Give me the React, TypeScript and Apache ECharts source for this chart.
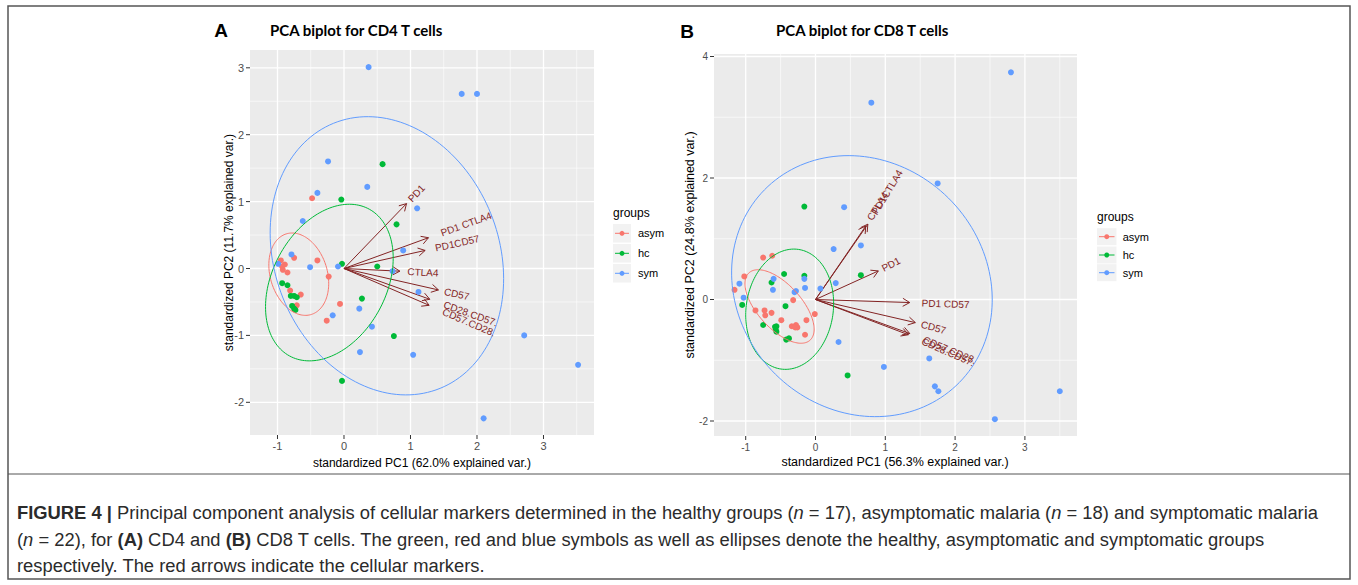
import React, { useEffect, useRef } from "react";
import * as echarts from "echarts";

// ---------- shared ----------
const GROUP_NAMES = ["asym", "hc", "sym"];
const GROUP_COLORS = ["#F8766D", "#00BA38", "#619CFF"];
const ARROW_COLOR = "#832424";

// ---------- Panel A (CD4) ----------
const A_X_MAJOR = [-1, 0, 1, 2, 3];
const A_X_MINOR = [-0.5, 0.5, 1.5, 2.5, 3.5];
const A_Y_MAJOR = [-2, -1, 0, 1, 2, 3];
const A_Y_MINOR = [-1.5, -0.5, 0.5, 1.5, 2.5];

const A_ASYM = [[-0.48, 1.05], [-0.75, 0.16], [-0.40, 0.12], [-0.23, -0.12], [-0.06, -0.53], [-0.95, 0.12], [-0.89, 0.06], [-0.93, 0.03], [-0.92, -0.02], [-0.85, -0.06], [-0.81, -0.33], [-0.65, -0.39], [-0.71, -0.55], [-0.26, -0.78]];
const A_HC = [[0.58, 1.56], [-0.04, 1.03], [0.79, 0.66], [-0.03, 0.07], [0.50, 0.03], [0.27, -0.45], [-0.93, -0.22], [-0.85, -0.25], [-0.80, -0.41], [-0.75, -0.41], [-0.71, -0.43], [-0.78, -0.56], [-0.75, -0.60], [-0.73, -0.62], [0.75, -1.01], [-0.03, -1.68]];
const A_SYM = [[0.37, 3.01], [1.77, 2.61], [2.00, 2.61], [-0.24, 1.60], [0.35, 1.22], [-0.40, 1.13], [1.10, 0.90], [-0.62, 0.71], [0.89, 0.27], [-0.79, 0.21], [-0.51, 0.02], [-0.09, 0.03], [0.73, -0.04], [1.12, -0.35], [0.23, -0.60], [-0.99, 0.07], [-0.17, -0.70], [0.42, -0.87], [2.71, -1.00], [0.24, -1.25], [1.04, -1.29], [3.52, -1.44], [2.10, -2.24]];
// ellipse: centre x, centre y, semi-major, semi-minor, major-axis angle (deg)
const A_ELLIPSES = [[-0.68, -0.085, 0.631, 0.428, 107.5], [-0.22, -0.21, 1.25, 0.854, 61.3], [0.645, 0.19, 2.137, 1.685, 112]];
const A_ARROW_NAMES = ["PD1", "PD1 CTLA4", "PD1CD57", "CTLA4", "CD57", "CD28.CD57.", "CD57.CD28."];
const A_ARROW_X = [0.94, 1.27, 1.22, 0.84, 1.42, 1.29, 1.28];
const A_ARROW_Y = [0.97, 0.46, 0.27, -0.04, -0.32, -0.46, -0.55];

// ---------- Panel B (CD8) ----------
const B_X_MAJOR = [-1, 0, 1, 2, 3];
const B_X_MINOR = [-0.5, 0.5, 1.5, 2.5, 3.5];
const B_Y_MAJOR = [-2, 0, 2, 4];
const B_Y_MINOR = [-1, 1, 3];

const B_ASYM = [[-0.75, 0.69], [-0.62, 0.72], [-1.02, 0.38], [-1.16, 0.16], [-0.32, -0.01], [-0.86, -0.18], [-0.73, -0.18], [-0.72, -0.26], [-0.63, -0.22], [-0.01, -0.24], [-0.49, -0.34], [-0.13, -0.34], [-0.34, -0.44], [-0.28, -0.42], [-0.26, -0.46], [-0.29, -0.46], [-0.15, -0.58]];
const B_HC = [[-0.16, 1.53], [-0.45, 0.42], [-0.16, 0.39], [0.65, 0.40], [-0.63, 0.28], [-1.05, -0.09], [-0.43, -0.11], [-0.75, -0.42], [-0.58, -0.45], [-0.56, -0.44], [-0.57, -0.49], [-0.56, -0.53], [-0.42, -0.66], [-0.38, -0.64], [0.46, -1.25]];
const B_SYM = [[2.80, 3.74], [0.80, 3.24], [1.75, 1.91], [0.41, 1.52], [0.26, 0.83], [0.65, 0.89], [-0.16, 0.34], [-1.09, 0.26], [-0.60, 0.34], [-0.61, 0.16], [-0.15, 0.19], [-0.28, 0.14], [-0.30, 0.12], [0.07, 0.18], [0.29, 0.27], [-1.03, 0.03], [0.33, -0.70], [1.63, -0.97], [0.98, -1.11], [1.71, -1.43], [1.76, -1.51], [3.50, -1.51], [2.57, -1.97]];
const B_ELLIPSES = [[-0.515, -0.115, 0.708, 0.332, 126], [-0.37, -0.16, 0.993, 0.625, 84.2], [0.665, 0.22, 2.18, 1.83, 108.2]];
const B_ARROW_NAMES = ["CTLA4", "PD1CTLA4", "PD1", "PD1 CD57", "CD57", "CD57.CD28.", "CD28.CD57."];
const B_ARROW_X = [0.72, 0.75, 0.90, 1.35, 1.43, 1.35, 1.33];
const B_ARROW_Y = [1.21, 1.24, 0.47, -0.05, -0.38, -0.56, -0.58];

const FONT = "'Liberation Sans', Arial, sans-serif";

type Panel = {
  grid: { left: number; top: number; width: number; height: number };
  xr: [number, number];
  yr: [number, number];
  xMajor: number[]; xMinor: number[]; yMajor: number[]; yMinor: number[];
  groups: number[][][];
  ellipses: number[][];
  arrowNames: string[]; arrowX: number[]; arrowY: number[];
  tickFont: number;
};

const PANEL_A: Panel = {
  grid: { left: 250, top: 50, width: 344, height: 385 },
  xr: [-1.4135, 3.7594], yr: [-2.4888, 3.2661],
  xMajor: A_X_MAJOR, xMinor: A_X_MINOR, yMajor: A_Y_MAJOR, yMinor: A_Y_MINOR,
  groups: [A_ASYM, A_HC, A_SYM], ellipses: A_ELLIPSES,
  arrowNames: A_ARROW_NAMES, arrowX: A_ARROW_X, arrowY: A_ARROW_Y, tickFont: 11,
};
const PANEL_B: Panel = {
  grid: { left: 714, top: 54, width: 363, height: 382 },
  xr: [-1.4542, 3.7464], yr: [-2.2469, 4.0412],
  xMajor: B_X_MAJOR, xMinor: B_X_MINOR, yMajor: B_Y_MAJOR, yMinor: B_Y_MINOR,
  groups: [B_ASYM, B_HC, B_SYM], ellipses: B_ELLIPSES,
  arrowNames: B_ARROW_NAMES, arrowX: B_ARROW_X, arrowY: B_ARROW_Y, tickFont: 10,
};

function panelSeries(p: Panel, gi: number): any[] {
  const out: any[] = [];
  // grid lines, ticks and tick labels
  out.push({
    type: "custom", xAxisIndex: gi, yAxisIndex: gi, z: 1, silent: true, clip: false,
    data: [[0, 0]],
    renderItem: (params: any, api: any) => {
      const cs = params.coordSys;
      const L = cs.x, T = cs.y, R = cs.x + cs.width, B = cs.y + cs.height;
      const ch: any[] = [];
      const vline = (v: number, w: number) => {
        const x = api.coord([v, 0])[0];
        ch.push({ type: "line", shape: { x1: x, y1: T, x2: x, y2: B }, style: { stroke: "#ffffff", lineWidth: w } });
      };
      const hline = (v: number, w: number) => {
        const y = api.coord([0, v])[1];
        ch.push({ type: "line", shape: { x1: L, y1: y, x2: R, y2: y }, style: { stroke: "#ffffff", lineWidth: w } });
      };
      p.xMinor.forEach((v) => vline(v, 0.6));
      p.yMinor.forEach((v) => hline(v, 0.6));
      p.xMajor.forEach((v) => vline(v, 1.3));
      p.yMajor.forEach((v) => hline(v, 1.3));
      p.xMajor.forEach((v) => {
        const x = api.coord([v, 0])[0];
        ch.push({ type: "line", shape: { x1: x, y1: B, x2: x, y2: B + 4 }, style: { stroke: "#333333", lineWidth: 1 } });
        ch.push({ type: "text", style: { text: String(v), x, y: B + 11, align: "center", verticalAlign: "middle", fill: "#4D4D4D", fontSize: p.tickFont, fontFamily: FONT } });
      });
      p.yMajor.forEach((v) => {
        const y = api.coord([0, v])[1];
        ch.push({ type: "line", shape: { x1: L - 4, y1: y, x2: L, y2: y }, style: { stroke: "#333333", lineWidth: 1 } });
        ch.push({ type: "text", style: { text: String(v), x: L - 6, y, align: "right", verticalAlign: "middle", fill: "#4D4D4D", fontSize: p.tickFont, fontFamily: FONT } });
      });
      return { type: "group", children: ch };
    },
  });
  // arrows
  out.push({
    type: "custom", xAxisIndex: gi, yAxisIndex: gi, z: 2, silent: true, clip: false,
    data: p.arrowX.map((x, i) => [x, p.arrowY[i]]),
    renderItem: (params: any, api: any) => {
      const i = params.dataIndex;
      const o = api.coord([0, 0]);
      const e = api.coord([p.arrowX[i], p.arrowY[i]]);
      const ang = Math.atan2(e[1] - o[1], e[0] - o[0]);
      const hl = 8, ha = Math.PI / 6;
      const h1 = [e[0] - hl * Math.cos(ang - ha), e[1] - hl * Math.sin(ang - ha)];
      const h2 = [e[0] - hl * Math.cos(ang + ha), e[1] - hl * Math.sin(ang + ha)];
      return {
        type: "group",
        children: [
          { type: "line", shape: { x1: o[0], y1: o[1], x2: e[0], y2: e[1] }, style: { stroke: ARROW_COLOR, lineWidth: 1 } },
          { type: "polyline", shape: { points: [h1, e, h2] }, style: { stroke: ARROW_COLOR, fill: "none", lineWidth: 1 } },
        ],
      };
    },
  });
  // points
  p.groups.forEach((g, k) => {
    out.push({
      type: "scatter", name: GROUP_NAMES[k], xAxisIndex: gi, yAxisIndex: gi, z: 3, silent: true,
      data: g, symbol: "circle", symbolSize: 6,
      itemStyle: { color: GROUP_COLORS[k], opacity: 1 },
    });
  });
  // ellipses
  out.push({
    type: "custom", xAxisIndex: gi, yAxisIndex: gi, z: 4, silent: true, clip: false,
    data: p.ellipses.map((e) => [e[0], e[1]]),
    renderItem: (params: any, api: any) => {
      const [cx, cy, a, b, thDeg] = p.ellipses[params.dataIndex];
      const th = (thDeg * Math.PI) / 180;
      const pts: number[][] = [];
      const n = 160;
      for (let k = 0; k <= n; k++) {
        const t = (2 * Math.PI * k) / n;
        const dx = a * Math.cos(t) * Math.cos(th) - b * Math.sin(t) * Math.sin(th);
        const dy = a * Math.cos(t) * Math.sin(th) + b * Math.sin(t) * Math.cos(th);
        pts.push(api.coord([cx + dx, cy + dy]));
      }
      return { type: "polyline", shape: { points: pts }, style: { stroke: GROUP_COLORS[params.dataIndex], fill: "none", lineWidth: 1 } };
    },
  });
  // arrow labels
  out.push({
    type: "custom", xAxisIndex: gi, yAxisIndex: gi, z: 5, silent: true, clip: false,
    data: p.arrowX.map((x, i) => [x, p.arrowY[i]]),
    renderItem: (params: any, api: any) => {
      const i = params.dataIndex;
      const e = api.coord([p.arrowX[i], p.arrowY[i]]);
      const rot = Math.atan2(p.arrowY[i], p.arrowX[i]);
      const name = p.arrowNames[i];
      return {
        type: "text", x: e[0], y: e[1], rotation: rot,
        style: { text: name, x: 1.5 * name.length, y: 0, align: "left", verticalAlign: "middle", fill: ARROW_COLOR, fontSize: 10, fontFamily: FONT },
      };
    },
  });
  return out;
}

function legendGraphics(x: number, titleY: number, keyYs: number[], kw: number, kh: number, labelX: number): any[] {
  const g: any[] = [];
  g.push({ type: "text", x, y: titleY, style: { text: "groups", fontSize: 12, fontFamily: FONT, fill: "#000", align: "left", verticalAlign: "middle" } });
  keyYs.forEach((cy, k) => {
    g.push({ type: "rect", shape: { x, y: cy - kh / 2, width: kw, height: kh }, style: { fill: "#F2F2F2", stroke: "none" } });
    g.push({ type: "line", shape: { x1: x + 2, y1: cy, x2: x + kw - 2, y2: cy }, style: { stroke: GROUP_COLORS[k], lineWidth: 1 } });
    g.push({ type: "circle", shape: { cx: x + kw / 2, cy, r: 2.5 }, style: { fill: GROUP_COLORS[k] } });
    g.push({ type: "text", x: labelX, y: cy, style: { text: GROUP_NAMES[k], fontSize: 11, fontFamily: FONT, fill: "#000", align: "left", verticalAlign: "middle" } });
  });
  return g;
}

function buildOption(): any {
  const panels = [PANEL_A, PANEL_B];
  const graphic: any[] = [
    { type: "rect", shape: { x: 8, y: 6, width: 1342, height: 573 }, style: { fill: "none", stroke: "#555555", lineWidth: 1.5 }, silent: true },
    { type: "line", shape: { x1: 8, y1: 474, x2: 1350, y2: 474 }, style: { stroke: "#555555", lineWidth: 1 }, silent: true },
    { type: "text", x: 221, y: 30, style: { text: "A", fontSize: 19, fontWeight: "bold", fontFamily: FONT, fill: "#000", align: "center", verticalAlign: "middle" } },
    { type: "text", x: 270, y: 30, style: { text: "PCA biplot for CD4 T cells", fontSize: 15, fontWeight: "bold", fontFamily: "Lato, 'Open Sans', sans-serif", fill: "#000", align: "left", verticalAlign: "middle" } },
    { type: "text", x: 687, y: 31, style: { text: "B", fontSize: 19, fontWeight: "bold", fontFamily: FONT, fill: "#000", align: "center", verticalAlign: "middle" } },
    { type: "text", x: 776, y: 30, style: { text: "PCA biplot for CD8 T cells", fontSize: 15, fontWeight: "bold", fontFamily: "Lato, 'Open Sans', sans-serif", fill: "#000", align: "left", verticalAlign: "middle" } },
    { type: "text", x: 422, y: 463, style: { text: "standardized PC1 (62.0% explained var.)", fontSize: 12, fontFamily: FONT, fill: "#000", align: "center", verticalAlign: "middle" } },
    { type: "text", x: 229, y: 242.5, rotation: Math.PI / 2, style: { text: "standardized PC2 (11.7% explained var.)", fontSize: 12, fontFamily: FONT, fill: "#000", align: "center", verticalAlign: "middle" } },
    { type: "text", x: 895, y: 462, style: { text: "standardized PC1 (56.3% explained var.)", fontSize: 12.5, fontFamily: FONT, fill: "#000", align: "center", verticalAlign: "middle" } },
    { type: "text", x: 690, y: 245, rotation: Math.PI / 2, style: { text: "standardized PC2 (24.8% explained var.)", fontSize: 12.5, fontFamily: FONT, fill: "#000", align: "center", verticalAlign: "middle" } },
    ...legendGraphics(613, 213, [233.3, 253.3, 273.3], 18, 18.5, 638),
    ...legendGraphics(1097, 217.3, [236.7, 255, 272.7], 19.5, 17, 1122.7),
  ];
  return {
    animation: false,
    backgroundColor: "#ffffff",
    grid: panels.map((p) => ({ ...p.grid, show: true, backgroundColor: "#EBEBEB", borderWidth: 0, containLabel: false })),
    xAxis: panels.map((p, i) => ({ type: "value", gridIndex: i, min: p.xr[0], max: p.xr[1], show: false })),
    yAxis: panels.map((p, i) => ({ type: "value", gridIndex: i, min: p.yr[0], max: p.yr[1], show: false })),
    series: [...panelSeries(PANEL_A, 0), ...panelSeries(PANEL_B, 1)],
    graphic,
  };
}

export default function App() {
  const ref = useRef<HTMLDivElement>(null);
  const capRef = useRef<HTMLDivElement>(null);
  useEffect(() => {
    const chart = echarts.init(ref.current!, null, { renderer: "svg" });
    chart.setOption(buildOption());
    const el = capRef.current;
    if (el) {
      const spans = Array.from(el.querySelectorAll<HTMLElement>("[data-line]"));
      spans.forEach((sp) => (sp.style.transform = "none"));
      const w = spans[0].getBoundingClientRect().width;
      const s = w > 0 ? 1301 / w : 1;
      spans.forEach((sp) => (sp.style.transform = `scaleX(${s})`));
    }
    return () => chart.dispose();
  }, []);

  const lineStyle: React.CSSProperties = {
    position: "absolute", left: 17, whiteSpace: "nowrap", display: "inline-block",
    transformOrigin: "0 50%", lineHeight: "20px",
  };
  return (
    <div style={{ position: "fixed", left: 0, top: 0, width: 1358, height: 585, background: "#fff", overflow: "hidden" }}>
      <div ref={ref} style={{ position: "absolute", left: 0, top: 0, width: 1358, height: 585 }} />
      <div
        ref={capRef}
        style={{
          position: "absolute", left: 0, top: 0, width: 1358, height: 585, pointerEvents: "none",
          fontFamily: "'Liberation Sans Narrow', 'Liberation Sans', Arial, sans-serif",
          fontSize: 18, color: "#2B2B2B",
        }}
      >
        <span data-line="1" style={{ ...lineStyle, top: 503 }}>
          <b>FIGURE 4 |</b> Principal component analysis of cellular markers determined in the healthy groups (<i>n</i> = 17), asymptomatic malaria (<i>n</i> = 18) and symptomatic malaria
        </span>
        <span data-line="2" style={{ ...lineStyle, top: 530 }}>
          (<i>n</i> = 22), for <b>(A)</b> CD4 and <b>(B)</b> CD8 T cells. The green, red and blue symbols as well as ellipses denote the healthy, asymptomatic and symptomatic groups
        </span>
        <span data-line="3" style={{ ...lineStyle, top: 556 }}>
          respectively. The red arrows indicate the cellular markers.
        </span>
      </div>
    </div>
  );
}
